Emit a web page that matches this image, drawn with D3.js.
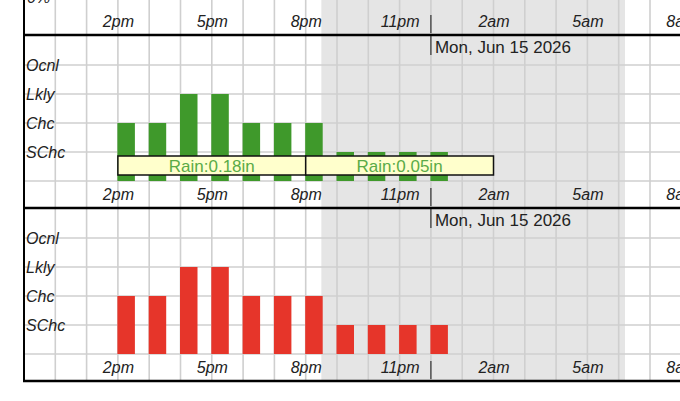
<!DOCTYPE html>
<html><head><meta charset="utf-8">
<script src="https://cdn.jsdelivr.net/npm/d3@7"></script>
<style>
html,body{margin:0;padding:0;background:#fff;overflow:hidden;}
svg{display:block;font-family:"Liberation Sans",Arial,sans-serif;}
</style></head>
<body>
<svg id="c" width="680" height="401"></svg>
<script>
// ---- data ----
const hours = ["2026-06-14T14:00","2026-06-14T15:00","2026-06-14T16:00","2026-06-14T17:00","2026-06-14T18:00","2026-06-14T19:00","2026-06-14T20:00","2026-06-14T21:00","2026-06-14T22:00","2026-06-14T23:00","2026-06-15T00:00"];
const rainLevel = [2,2,3,3,2,2,2,1,1,1,1];
const thunderLevel = [2,2,3,3,2,2,2,1,1,1,1];
const levelLabels = ["SChc","Chc","Lkly","Ocnl"];
const rainStart = ["2026-06-14T14:00","2026-06-14T20:00"];
const rainEnd = ["2026-06-14T20:00","2026-06-15T02:00"];
const rainAmount = ["0.18","0.05"];
const tickHours = ["2026-06-14T14:00","2026-06-14T17:00","2026-06-14T20:00","2026-06-14T23:00","2026-06-15T02:00","2026-06-15T05:00","2026-06-15T08:00"];
const tickLabels = ["2pm","5pm","8pm","11pm","2am","5am","8am"];
const sunset = "2026-06-14T20:30";
const sunrise = "2026-06-15T06:12";
const midnight = "2026-06-15T00:00";
const dateLabel = "Mon, Jun 15 2026";
const topLabel = "0%";

const parse = d3.timeParse("%Y-%m-%dT%H:%M");
const svg = d3.select("#c");
const W = 680;
const t0 = parse("2026-06-14T11:00"), t1 = parse("2026-06-15T09:00");
const x = d3.scaleTime().domain([t0,t1]).range([24, 24 + 22*31.3]);
const panelH = 173;
const y = d3.scaleLinear().domain([0,4]).range([146,30]);
const panels = [{y0:-138},{y0:35,vals:rainLevel,color:"#3f992b",rain:true},{y0:208,vals:thunderLevel,color:"#e6352a"}];

// night shading
svg.append("rect").attr("x", x(parse(sunset))).attr("y", 0)
  .attr("width", x(parse(sunrise)) - x(parse(sunset))).attr("height", 381)
  .attr("fill", "#e5e5e5");

// vertical hourly grid
const hourTicks = d3.timeHour.range(t0, d3.timeHour.offset(t1,1));
svg.append("g").selectAll("line").data(hourTicks).join("line")
  .attr("x1", d=>x(d)).attr("x2", d=>x(d)).attr("y1", 0).attr("y2", 381)
  .attr("stroke", "#cfcfcf").attr("stroke-width", 1.6);

panels.forEach(p => {
  const g = svg.append("g").attr("transform", `translate(0,${p.y0})`);
  if (p.vals) {
    g.append("g").selectAll("line").data(d3.range(0,5)).join("line")
      .attr("x1", 24).attr("x2", W).attr("y1", d=>y(d)).attr("y2", d=>y(d))
      .attr("stroke", "#cfcfcf").attr("stroke-width", 1.6);
    g.append("g").selectAll("rect").data(hours.map((h,i)=>({t:parse(h),v:p.vals[i]}))).join("rect")
      .attr("x", d=>x(d.t)-0.5).attr("width", 17.5)
      .attr("y", d=>y(d.v)).attr("height", d=>y(0)-y(d.v))
      .attr("fill", p.color);
    g.append("g").selectAll("text").data(levelLabels).join("text")
      .attr("x", 26).attr("y", (d,i)=>y(i+1)+5.5)
      .attr("font-size", 16).attr("font-style","italic").attr("fill","#222")
      .text(d=>d);
    g.append("line").attr("x1", x(parse(midnight))).attr("x2", x(parse(midnight)))
      .attr("y1", 1).attr("y2", 20).attr("stroke","#333").attr("stroke-width",1.2);
    g.append("text").attr("x", x(parse(midnight))+4).attr("y", 18)
      .attr("font-size", 17).attr("fill","#222").text(dateLabel);
    if (p.rain) {
      const rb = g.append("g");
      rainAmount.forEach((a,i) => {
        const xs = x(parse(rainStart[i])), xe = x(parse(rainEnd[i]));
        rb.append("rect").attr("x", xs).attr("y", 121).attr("width", xe-xs).attr("height", 19)
          .attr("fill","#ffffcc").attr("stroke","#111").attr("stroke-width",1.5);
        rb.append("text").attr("x",(xs+xe)/2).attr("y",137).attr("text-anchor","middle")
          .attr("font-size",17).attr("fill","#5aab47").text("Rain:"+a+"in");
      });
    }
  } else {
    g.append("text").attr("x", 27).attr("y", 141).attr("font-size",16)
      .attr("font-style","italic").attr("fill","#222").text(topLabel);
  }
  const ax = d3.axisBottom(x).tickValues(tickHours.map(parse))
    .tickFormat((d,i)=>tickLabels[i]).tickSize(0).tickPadding(0);
  const axg = g.append("g").attr("transform", `translate(0,${152})`).call(ax);
  axg.select(".domain").remove();
  axg.selectAll("text").attr("font-size",16).attr("font-style","italic")
    .attr("fill","#222").attr("font-family","'Liberation Sans',Arial,sans-serif")
    .attr("dy", null).attr("y", 13);
  g.append("line").attr("x1", x(parse(midnight))).attr("x2", x(parse(midnight)))
    .attr("y1", 153).attr("y2", 171).attr("stroke","#333").attr("stroke-width",1.2);
  g.append("line").attr("x1", 23).attr("x2", W).attr("y1", panelH).attr("y2", panelH)
    .attr("stroke","#000").attr("stroke-width",2.5);
});

svg.append("line").attr("x1",24).attr("x2",24).attr("y1",0).attr("y2",382)
  .attr("stroke","#000").attr("stroke-width",2);
</script>
</body></html>
